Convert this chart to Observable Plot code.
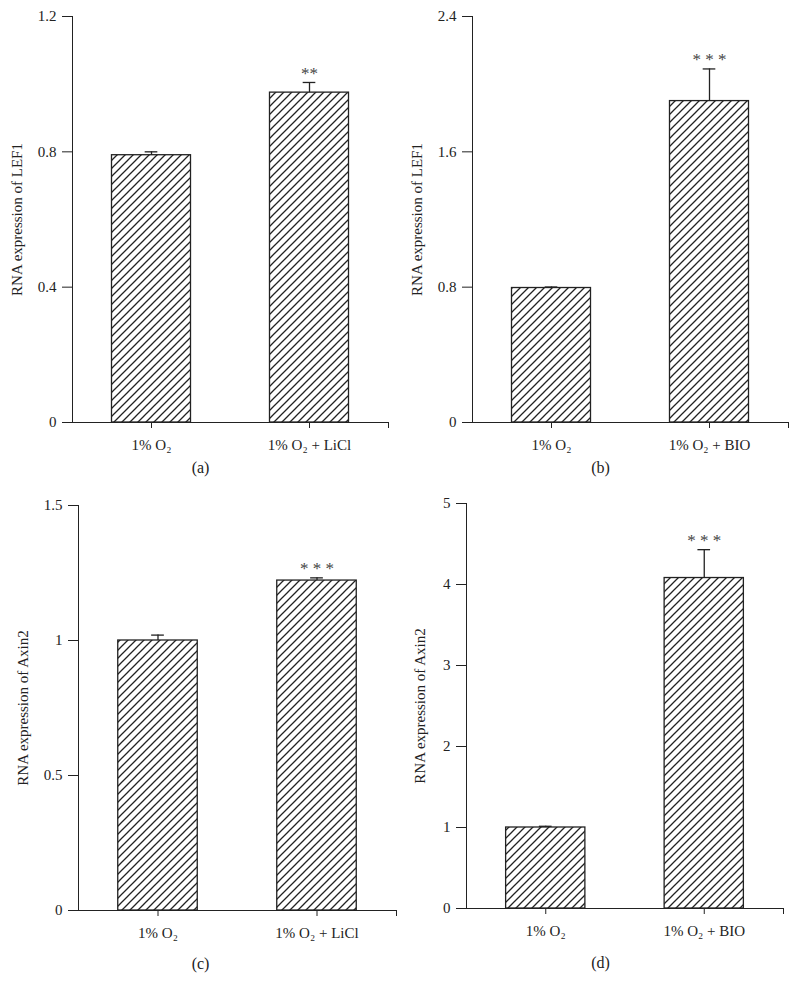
<!DOCTYPE html>
<html>
<head>
<meta charset="utf-8">
<script src="https://cdn.jsdelivr.net/npm/d3@7"></script>
<script src="https://cdn.jsdelivr.net/npm/@observablehq/plot@0.6"></script>
<style>
  html, body { margin: 0; padding: 0; background: #fff; }
  #root { position: relative; width: 800px; height: 995px; overflow: hidden; }
  .panel { position: absolute; }
</style>
</head>
<body>
<div id="root"></div>
<script>
// ---- Data ----
const categoriesLiCl = ["1% O₂", "1% O₂ + LiCl"];
const categoriesBIO = ["1% O₂", "1% O₂ + BIO"];

const valuesA = [0.79, 0.975];
const errorsA = [0.01, 0.03];
const starsA = ["", "**"];
const ticksA = [0, 0.4, 0.8, 1.2];

const valuesB = [0.795, 1.90];
const errorsB = [0.006, 0.19];
const starsB = ["", "* * *"];
const ticksB = [0, 0.8, 1.6, 2.4];

const valuesC = [1.0, 1.222];
const errorsC = [0.02, 0.01];
const starsC = ["", "* * *"];
const ticksC = [0, 0.5, 1, 1.5];

const valuesD = [1.0, 4.08];
const errorsD = [0.015, 0.35];
const starsD = ["", "* * *"];
const ticksD = [0, 1, 2, 3, 4, 5];

const labelLEF1 = "RNA expression of LEF1";
const labelAxin2 = "RNA expression of Axin2";

// ---- Drawing ----
const FONT = "'Liberation Serif', 'DejaVu Serif', serif";
const INK = "#222";

function hatchDefs(id) {
  return () => {
    const ns = "http://www.w3.org/2000/svg";
    const defs = document.createElementNS(ns, "defs");
    const pat = document.createElementNS(ns, "pattern");
    pat.setAttribute("id", id);
    pat.setAttribute("patternUnits", "userSpaceOnUse");
    pat.setAttribute("width", "8");
    pat.setAttribute("height", "8");
    const path = document.createElementNS(ns, "path");
    path.setAttribute("d", "M-2,2 L2,-2 M0,8 L8,0 M6,10 L10,6");
    path.setAttribute("stroke", INK);
    path.setAttribute("stroke-width", "1.3");
    pat.appendChild(path);
    defs.appendChild(pat);
    return defs;
  };
}

function panel(cfg) {
  const data = cfg.cats.map((c, i) => ({pos: i + 1, cat: c, v: cfg.vals[i], e: cfg.errs[i], s: cfg.stars[i]}));
  const frameMid = cfg.ml + (400 - cfg.ml - cfg.mr) / 2;
  return Plot.plot({
    width: 400,
    height: cfg.h,
    marginLeft: cfg.ml,
    marginRight: cfg.mr,
    marginTop: cfg.mt,
    marginBottom: cfg.mb,
    style: {fontFamily: FONT, fontSize: "15px", color: INK, background: "transparent", overflow: "visible"},
    x: {
      domain: [0.5, 2.5],
      ticks: [1, 2, 2.5],
      tickFormat: d => (Number.isInteger(d) ? cfg.cats[d - 1] : ""),
      tickSize: 6,
      tickPadding: 11,
      line: true,
      label: null
    },
    y: {
      domain: [0, cfg.yMax],
      ticks: cfg.yTicks,
      tickFormat: d => String(d),
      tickSize: 10,
      tickPadding: 6,
      line: true,
      label: cfg.yLabel,
      labelArrow: "none",
      labelAnchor: "center",
      labelOffset: cfg.labelOffset
    },
    marks: [
      hatchDefs(cfg.id),
      Plot.rectY(data, {
        x1: d => d.pos - 0.25, x2: d => d.pos + 0.25, y1: 0, y2: "v",
        fill: `url(#${cfg.id})`, stroke: INK, strokeWidth: 1.3
      }),
      Plot.ruleX(data, {x: "pos", y1: "v", y2: d => d.v + d.e, stroke: INK, strokeWidth: 1.3}),
      Plot.ruleY(data, {y: d => d.v + d.e, x1: d => d.pos - 0.04, x2: d => d.pos + 0.04, stroke: INK, strokeWidth: 1.3}),
      Plot.text(data.filter(d => d.s), {
        x: "pos", y: d => d.v + d.e, text: "s", dy: -9, fontSize: 17, fill: "#444"
      }),
      Plot.text([cfg.caption], {
        frameAnchor: "bottom", lineAnchor: "middle", dy: cfg.capDy, dx: 200 - frameMid, fontSize: 16, fill: INK
      })
    ]
  });
}

const root = document.getElementById("root");
const specs = [
  {left: 0, top: 0, id: "hA", cats: categoriesLiCl, vals: valuesA, errs: errorsA, stars: starsA, yMax: 1.2, yTicks: ticksA,
   yLabel: labelLEF1, caption: "(a)", ml: 72, mr: 12, mt: 16, mb: 58, h: 480, labelOffset: 61, capDy: 45},
  {left: 400, top: 0, id: "hB", cats: categoriesBIO, vals: valuesB, errs: errorsB, stars: starsB, yMax: 2.4, yTicks: ticksB,
   yLabel: labelLEF1, caption: "(b)", ml: 72, mr: 12, mt: 16, mb: 58, h: 480, labelOffset: 61, capDy: 45},
  {left: 0, top: 480, id: "hC", cats: categoriesLiCl, vals: valuesC, errs: errorsC, stars: starsC, yMax: 1.5, yTicks: ticksC,
   yLabel: labelAxin2, caption: "(c)", ml: 78, mr: 4, mt: 25, mb: 85, h: 515, labelOffset: 61, capDy: 53},
  {left: 400, top: 480, id: "hD", cats: categoriesBIO, vals: valuesD, errs: errorsD, stars: starsD, yMax: 5, yTicks: ticksD,
   yLabel: labelAxin2, caption: "(d)", ml: 66, mr: 17, mt: 23, mb: 87, h: 515, labelOffset: 52, capDy: 54}
];
for (const s of specs) {
  const wrap = document.createElement("div");
  wrap.className = "panel";
  wrap.style.left = s.left + "px";
  wrap.style.top = s.top + "px";
  wrap.appendChild(panel(s));
  root.appendChild(wrap);
}
</script>
</body>
</html>
